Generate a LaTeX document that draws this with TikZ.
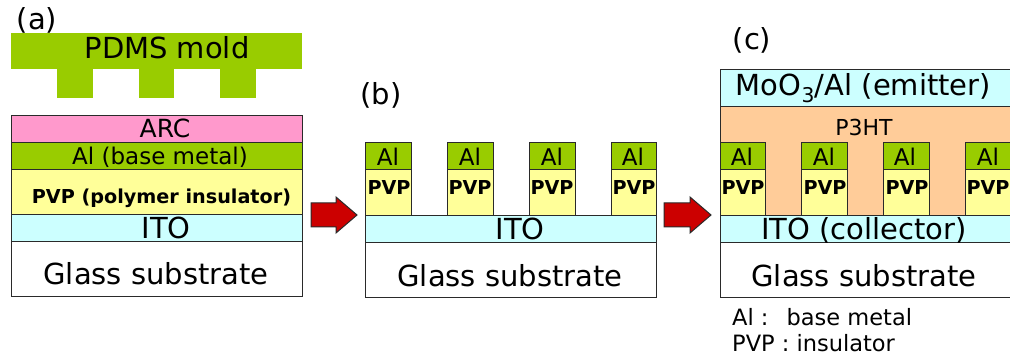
\documentclass[tikz,border=0pt]{standalone}
\usepackage{fontspec}
\setmainfont{DejaVu Sans}
\definecolor{moldgreen}{HTML}{99CC00}
\definecolor{arcpink}{HTML}{FF99CC}
\definecolor{pvpyellow}{HTML}{FFFF99}
\definecolor{itocyan}{HTML}{CCFFFF}
\definecolor{p3ht}{HTML}{FFCC99}
\definecolor{arrowred}{HTML}{CC0000}
\definecolor{edge}{HTML}{2A2A2A}
\newcommand{\fs}[1]{\fontsize{#1}{#1}\selectfont}
\tikzset{x=1pt,y=-1pt,
  lay/.style={draw=edge,line width=1.2pt,inner sep=0pt,anchor=north west},
  flat/.style={inner sep=0pt,anchor=north west,fill=moldgreen},
  big/.style={anchor=base,inner sep=0pt,font=\fs{29},text=black},
  mid/.style={anchor=base,inner sep=0pt,font=\fs{23},text=black},
  small/.style={anchor=base,inner sep=0pt,font=\fs{22.5},text=black},
  pvpb/.style={anchor=base,inner sep=0pt,font=\fs{19.2}\bfseries,text=black},
  fat/.style={draw=edge,line width=1pt,fill=arrowred}
}
% name, x, y, w, h, colour
\newcommand{\lay}[6]{\node[lay,fill=#6,minimum width=#4pt,minimum height=#5pt] (#1) at (#2,#3) {};}
% pillar: prefix, x, label x for Al, label x for PVP
\newcommand{\pillar}[4]{%
  \lay{#1p}{#2}{169}{45.5}{46}{pvpyellow}
  \lay{#1a}{#2}{142}{45.5}{27}{moldgreen}
  \node[mid] (#1at) at (#3,165.5) {Al};
  \node[pvpb] (#1pt) at (#4,194.5) {PVP};}
\begin{document}
\begin{tikzpicture}
\useasboundingbox (0,0) rectangle (1010,358);
% (a)
\node[flat,minimum width=291pt,minimum height=36pt] (mold) at (11,33) {};
\node[flat,minimum width=36pt,minimum height=29pt] (t1) at (57,68.5) {};
\node[flat,minimum width=35pt,minimum height=29pt] (t2) at (139,68.5) {};
\node[flat,minimum width=36pt,minimum height=29pt] (t3) at (220,68.5) {};
\node[big] (la) at (37,30) {(a)};
\node[big] (lmold) at (167,59) {PDMS mold};
\lay{arc}{11}{115}{291}{27}{arcpink}
\lay{ala}{11}{142}{291}{27}{moldgreen}
\lay{pvpa}{11}{169}{291}{45}{pvpyellow}
\lay{itoa}{11}{214}{291}{27}{itocyan}
\lay{gla}{11}{241}{291}{55}{white}
\node[mid,font=\fs{25}] (tarc) at (165,138) {ARC};
\node[mid] (tal) at (160,165) {Al (base metal)};
\node[pvpb] (tpvp) at (161.5,204) {PVP (polymer insulator)};
\node[big] (tito) at (166,239) {ITO};
\node[big] (tgla) at (156,285) {Glass substrate};
% arrow 1
\draw[fat] (311,203) -- (336,203) -- (336,197) -- (357,215) -- (336,233) -- (336,227) -- (311,227) -- cycle;
% (b)
\node[big] (lb) at (381,105) {(b)};
\lay{itob}{365}{215}{291}{27}{itocyan}
\lay{glb}{365}{242}{291}{55}{white}
\pillar{b1}{365}{388}{389}
\pillar{b2}{447}{470}{470}
\pillar{b3}{529}{552}{552}
\pillar{b4}{610.5}{633}{634}
\node[big] (titob) at (520,240) {ITO};
\node[big] (tglb) at (510,287) {Glass substrate};
% arrow 2
\draw[fat] (664,203) -- (690,203) -- (690,197) -- (711,215) -- (690,233) -- (690,227) -- (664,227) -- cycle;
% (c)
\node[big] (lc) at (752,49.5) {(c)};
\lay{p3}{719.5}{106}{291}{109}{p3ht}
\lay{moo}{719.5}{69}{291}{37}{itocyan}
\lay{itoc}{719.5}{215}{291}{27}{itocyan}
\lay{glc}{719.5}{242}{291}{55}{white}
\pillar{c1}{719.5}{742}{743}
\pillar{c2}{801}{824}{825}
\pillar{c3}{883}{905}{907}
\pillar{c4}{964.5}{988}{988}
\node[big] (tmoo) at (863.5,96) {MoO\textsubscript{3}/Al (emitter)};
\node[small,font=\fs{22}] (tp3) at (864,136) {P3HT};
\node[big] (titoc) at (864,240) {ITO (collector)};
\node[big] (tglc) at (864,287) {Glass substrate};
\node[small,anchor=base west] (k1) at (732,325) {Al :\ \ \,base metal};
\node[small,anchor=base west] (k2) at (732,352) {PVP : insulator};
\end{tikzpicture}
\end{document}
